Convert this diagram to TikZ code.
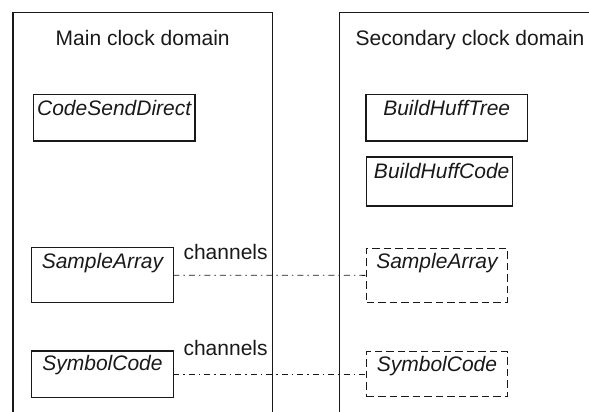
\documentclass[tikz,border=0pt]{standalone}
\usepackage{fontspec}
\setmainfont{Liberation Sans}
\begin{document}
\begin{tikzpicture}[x=1pt,y=-1pt,
  every node/.style={font=\fontsize{21}{25}\selectfont, inner sep=0pt, outer sep=0pt},
  domainline/.style={line width=1.4pt, draw=black!90},
  procbox/.style={draw=black!90, line width=1.4pt, rectangle},
  ghostbox/.style={draw=black!90, line width=1.4pt, rectangle, dash pattern=on 7.5pt off 4pt},
  chanline/.style={draw=black!90, line width=0.9pt, dash pattern=on 6pt off 4pt on 1.5pt off 4pt},
  boxtext/.style={anchor=base, font=\fontsize{21}{25}\selectfont\itshape, text=black!90},
  title/.style={anchor=base, text=black!90}]
\useasboundingbox (0,0) rectangle (589,412);
% domains
\coordinate (mbl) at (13,413);
\coordinate (mtl) at (13,12.5);
\coordinate (mtr) at (272.7,12.5);
\coordinate (mbr) at (272.7,413);
\coordinate (sbl) at (339.3,413);
\coordinate (stl) at (339.3,12.5);
\coordinate (str) at (590,12.5);
\draw[domainline] (mbl) -- (mtl) -- (mtr) -- (mbr);
\draw[domainline] (sbl) -- (stl) -- (str);
\node[title] (mtitle) at (142.7,45.5) {Main clock domain};
\node[title] (stitle) at (470,45.5) {Secondary clock domain};
% boxes
\node[procbox, minimum width=161.7pt, minimum height=46.7pt] (csd) at (114.2,117.7) {};
\node[boxtext] (csdt) at ([yshift=-21.2pt]csd.north) {CodeSendDirect};
\node[procbox, minimum width=161.3pt, minimum height=46.7pt] (bht) at (446.7,117.7) {};
\node[boxtext] (bhtt) at ([yshift=-21.6pt]bht.north) {BuildHuffTree};
\node[procbox, minimum width=146pt, minimum height=49pt] (bhc) at (439.7,181.5) {};
\node[boxtext] (bhct) at ([yshift=-21.5pt,xshift=2pt]bhc.north) {BuildHuffCode};
\node[procbox, minimum width=141.6pt, minimum height=55pt] (saL) at (102.5,275.2) {};
\node[boxtext] (saLt) at ([yshift=-20.6pt]saL.north) {SampleArray};
\node[procbox, minimum width=141.6pt, minimum height=46.3pt] (scL) at (102.5,374.2) {};
\node[boxtext] (scLt) at ([yshift=-19.5pt]scL.north) {SymbolCode};
\node[ghostbox, minimum width=140.6pt, minimum height=54pt] (saR) at (437,275.3) {};
\node[boxtext] (saRt) at ([yshift=-20.6pt]saR.north) {SampleArray};
\node[ghostbox, minimum width=140.6pt, minimum height=45pt] (scR) at (437,374.2) {};
\node[boxtext] (scRt) at ([yshift=-19.5pt]scR.north) {SymbolCode};
% channels
\draw[chanline] (saL.east) -- (saR.west);
\draw[chanline] (scL.east) -- (scR.west);
\node[title] (ch1) at (225.6,259.3) {channels};
\node[title] (ch2) at (225.6,355) {channels};
\end{tikzpicture}
\end{document}
